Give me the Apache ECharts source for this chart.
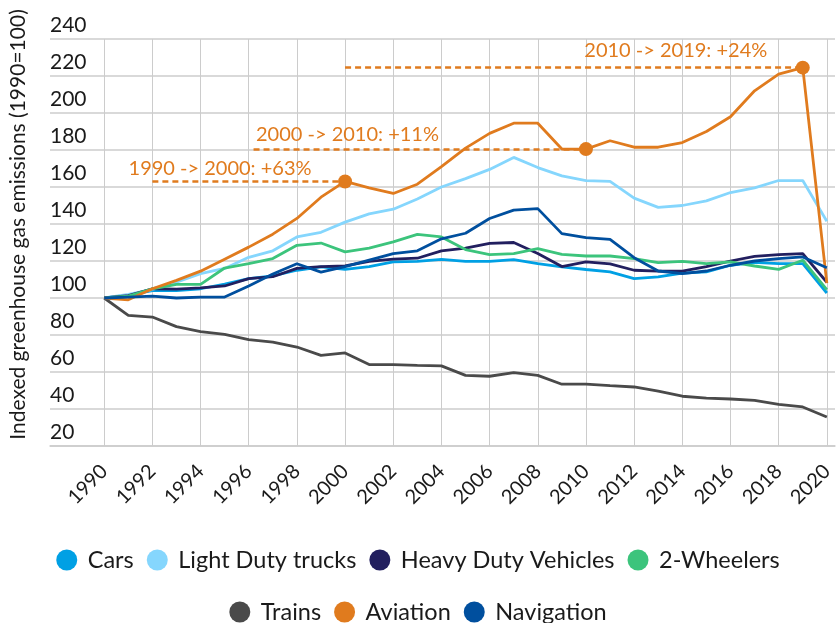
<!DOCTYPE html>
<html>
<head>
<meta charset="utf-8">
<script src="https://cdn.jsdelivr.net/npm/echarts@6/dist/echarts.min.js"></script>
<style>
html, body { margin: 0; padding: 0; background: #fff; }
#chart { width: 836px; height: 623px; }
</style>
</head>
<body>
<div id="chart"></div>
<script>
// years and indexed emissions (1990 = 100)
var years = [1990, 1991, 1992, 1993, 1994, 1995, 1996, 1997, 1998, 1999, 2000, 2001, 2002, 2003, 2004, 2005,
    2006, 2007, 2008, 2009, 2010, 2011, 2012, 2013, 2014, 2015, 2016, 2017, 2018, 2019, 2020];
var tickYears = [1990, 1992, 1994, 1996, 1998, 2000, 2002, 2004, 2006, 2008, 2010, 2012, 2014, 2016, 2018, 2020];

var cars = [100, 101.5, 104, 104, 105, 107.5, 110.5, 112, 115, 116.8, 115.5, 117, 119.5, 119.8, 120.9, 119.8,
    119.8, 120.7, 118.6, 116.8, 115.4, 114.1, 110.5, 111.4, 113.5, 114.1, 117.7, 119.3, 118.6, 118.6, 102.7];
var lightDuty = [100, 102, 104.5, 108.5, 113.2, 116, 122, 125.5, 133, 135.5, 141, 145.5, 148, 153.5, 160, 164.5,
    169.5, 176, 170.5, 166, 163.5, 163, 154, 149, 150, 152.5, 157, 159.5, 163.5, 163.5, 141.5];
var heavyDuty = [100, 101.3, 105, 104.8, 105.5, 106.5, 110.5, 111.5, 116, 117, 117.3, 119.8, 121, 121.5, 125.5, 127,
    129.5, 130, 124, 117, 119.5, 118.5, 115, 114.5, 114.5, 117, 120, 122.5, 123.5, 124, 108.5];
var twoWheelers = [100, 101, 105, 107.4, 107.4, 116.2, 118.6, 121.3, 128.5, 129.7, 124.9, 127, 130.3, 134.4, 133, 126.2,
    123.5, 124, 126.7, 123.6, 122.7, 122.7, 121.3, 119.1, 119.8, 118.6, 119.5, 117.3, 115.5, 120.4, 104.5];
var trains = [100, 90.6, 89.7, 84.5, 81.8, 80.3, 77.5, 76.2, 73.5, 69, 70.3, 64, 64, 63.6, 63.3, 58.2,
    57.7, 59.7, 58.2, 53.4, 53.4, 52.6, 51.9, 49.6, 46.9, 45.9, 45.4, 44.7, 42.5, 41.1, 35.7];
var aviation = [100, 99, 105, 109.5, 114.5, 121, 127.5, 134.5, 143, 154.5, 163, 159.5, 156.5, 161.5, 171, 181,
    189, 194.5, 194.5, 180.5, 180.5, 185, 181.5, 181.5, 184, 190, 198, 212, 221, 224.5, 108];
var navigation = [100, 100.5, 101, 100, 100.5, 100.5, 106.5, 113, 118.5, 114, 117, 120.5, 124, 125.5, 132, 135,
    143, 147.5, 148.3, 134.8, 132.6, 131.7, 121.8, 114.6, 113.2, 114.6, 117.7, 120, 121.3, 122.2, 116.4];

var names = ['Cars', 'Light Duty trucks', 'Heavy Duty Vehicles', '2-Wheelers', 'Trains', 'Aviation', 'Navigation'];
var colors = ['#00a0e4', '#85d6fd', '#221f5f', '#3cc47c', '#4a4a4a', '#e07b1e', '#004f9e'];
var values = [cars, lightDuty, heavyDuty, twoWheelers, trains, aviation, navigation];

// annotations on the aviation line
var annoText = ['1990 -> 2000: +63%', '2000 -> 2010: +11%', '2010 -> 2019: +24%'];
var annoFrom = [1992, 1996.2, 2000];
var annoTo = [2000, 2010, 2019];

var orange = '#e07b1e';
var font = 'Lato';

function valueAt(arr, year) {
    return arr[years.indexOf(year)];
}

var series = names.map(function (name, i) {
    return {
        name: name,
        type: 'line',
        symbol: 'none',
        data: years.map(function (y, j) { return [y, values[i][j]]; }),
        lineStyle: { width: 2.8, color: colors[i] },
        itemStyle: { color: colors[i] }
    };
});

var av = series[5];
av.markLine = {
    silent: true,
    symbol: ['none', 'none'],
    label: { show: false },
    lineStyle: { type: [6, 4], width: 2.5, color: orange },
    data: annoTo.map(function (y, k) {
        var v = valueAt(aviation, y);
        return [{ coord: [annoFrom[k], v] }, { coord: [y, v] }];
    })
};
var textPos = [[1994.81, 170.1], [2000.1, 188.5], [2013.73, 233.9]];
av.markPoint = {
    silent: true,
    data: annoTo.map(function (y) {
        return {
            coord: [y, valueAt(aviation, y)],
            symbol: 'circle', symbolSize: 14,
            itemStyle: { color: orange },
            label: { show: false }
        };
    }).concat(annoText.map(function (t, k) {
        return {
            coord: textPos[k],
            symbol: 'rect', symbolSize: 1,
            itemStyle: { color: 'rgba(0,0,0,0)' },
            label: { show: true, position: 'inside', formatter: t, fontSize: 20, color: orange, fontFamily: font }
        };
    }))
};

var legendBase = {
    left: 'center',
    icon: 'circle',
    itemWidth: 32,
    itemHeight: 21,
    itemGap: 13,
    textStyle: { fontSize: 23.5, color: '#1a1a1a', fontFamily: font }
};

var option = {
    animation: false,
    backgroundColor: '#ffffff',
    color: colors,
    grid: { left: 47, right: 0, top: 39, bottom: 177 },
    legend: [
        Object.assign({ top: 543, data: names.slice(0, 4) }, legendBase),
        Object.assign({ top: 595, data: names.slice(4) }, legendBase)
    ],
    xAxis: {
        type: 'value',
        min: 1987.75,
        max: 2020.34,
        axisLine: { show: true, lineStyle: { color: '#cccccc', width: 1.5 } },
        axisTick: { show: false, customValues: tickYears },
        axisLabel: {
            customValues: tickYears,
            rotate: 45,
            margin: 22,
            fontSize: 20,
            color: '#1a1a1a',
            fontFamily: font,
            formatter: function (v) { return String(v); }
        },
        splitLine: { show: true, lineStyle: { color: '#cccccc', width: 1 } }
    },
    yAxis: {
        type: 'value',
        min: 20,
        max: 240,
        interval: 20,
        name: 'Indexed greenhouse gas emissions (1990=100)',
        nameLocation: 'middle',
        nameRotate: 90,
        nameGap: 21,
        nameTextStyle: { fontSize: 21, color: '#1a1a1a', fontFamily: font, padding: [0, 0, 0, 36] },
        axisLine: { show: false },
        axisTick: { show: false },
        axisLabel: {
            inside: true,
            margin: 0,
            verticalAlign: 'bottom',
            padding: [0, 0, 3, 0],
            fontSize: 21,
            color: '#1a1a1a',
            fontFamily: font
        },
        splitLine: { lineStyle: { color: '#cccccc', width: 1.5 } }
    },
    series: series
};

var chart = echarts.init(document.getElementById('chart'));
chart.setOption(option);
</script>
</body>
</html>
